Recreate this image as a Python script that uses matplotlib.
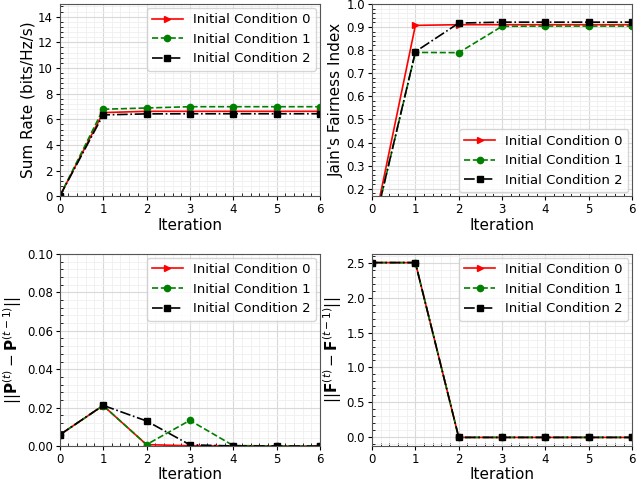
import numpy as np
import matplotlib
matplotlib.use('Agg')
import matplotlib.pyplot as plt
from matplotlib.ticker import AutoMinorLocator, MultipleLocator

# -------- Data --------
iterations = [0, 1, 2, 3, 4, 5, 6]
labels = ['Initial Condition 0',
          'Initial Condition 1',
          'Initial Condition 2']

sum_rate_0 = [0.0, 6.52, 6.62, 6.62, 6.62, 6.62, 6.62]
sum_rate_1 = [0.0, 6.78, 6.88, 6.98, 6.98, 6.98, 6.98]
sum_rate_2 = [0.0, 6.34, 6.42, 6.43, 6.43, 6.43, 6.43]

jain_0 = [0.0, 0.907, 0.910, 0.910, 0.910, 0.910, 0.910]
jain_1 = [0.0, 0.790, 0.789, 0.903, 0.904, 0.904, 0.904]
jain_2 = [0.0, 0.793, 0.917, 0.921, 0.921, 0.921, 0.921]

pdiff_0 = [0.0059, 0.0211, 0.0008, 0.0002, 0.0001, 0.0, 0.0]
pdiff_1 = [0.0059, 0.0211, 0.0008, 0.0134, 0.0003, 0.0001, 0.0]
pdiff_2 = [0.0059, 0.0212, 0.0131, 0.0007, 0.0001, 0.0001, 0.0]

fdiff_0 = [2.5, 2.5, 0.0, 0.0, 0.0, 0.0, 0.0]
fdiff_1 = [2.5, 2.5, 0.0, 0.0, 0.0, 0.0, 0.0]
fdiff_2 = [2.5, 2.5, 0.0, 0.0, 0.0, 0.0, 0.0]

styles = [dict(color='red', linestyle='-', marker='>'),
          dict(color='green', linestyle='--', marker='o'),
          dict(color='black', linestyle='-.', marker='s')]

panels = [([sum_rate_0, sum_rate_1, sum_rate_2], 'Sum Rate (bits/Hz/s)', (0, 15), 2, 'upper right'),
          ([jain_0, jain_1, jain_2], "Jain's Fairness Index", (0.168, 1.0), 0.1, 'lower right'),
          ([pdiff_0, pdiff_1, pdiff_2], r'$||\mathbf{P}^{(t)}-\mathbf{P}^{(t-1)}||$', (0, 0.1), 0.02, 'upper right'),
          ([fdiff_0, fdiff_1, fdiff_2], r'$||\mathbf{F}^{(t)}-\mathbf{F}^{(t-1)}||$', None, 0.5, 'upper right')]

fig, axes = plt.subplots(2, 2, figsize=(6.36, 4.86), dpi=100)
plt.subplots_adjust(left=0.094, right=0.994, bottom=0.082, top=0.992,
                    wspace=0.2, hspace=0.30)

for ax, (series, ylabel, ylim, step, loc) in zip(axes.flat, panels):
    for ys, st, lab in zip(series, styles, labels):
        ax.plot(iterations, ys, label=lab, linewidth=1.2, markersize=4.5, **st)
    ax.set_xlim(0, 6)
    if ylim is not None:
        ax.set_ylim(*ylim)
    ax.set_xlabel('Iteration', fontsize=11, labelpad=1)
    ax.set_ylabel(ylabel, fontsize=11, labelpad=2)
    ax.yaxis.set_major_locator(MultipleLocator(step))
    ax.xaxis.set_minor_locator(AutoMinorLocator(5))
    ax.yaxis.set_minor_locator(AutoMinorLocator(5))
    ax.grid(which='major', color='#d9d9d9', linewidth=0.8)
    ax.grid(which='minor', color='#efefef', linewidth=0.6)
    ax.set_axisbelow(True)
    ax.tick_params(which='major', labelsize=8.5, length=3, pad=2)
    ax.tick_params(which='minor', direction='in', length=2)
    for sp in ax.spines.values():
        sp.set_color('#555555')
    ax.legend(loc=loc, fontsize=9.5, handlelength=2.3, borderaxespad=0.3)

plt.savefig('out.png')
